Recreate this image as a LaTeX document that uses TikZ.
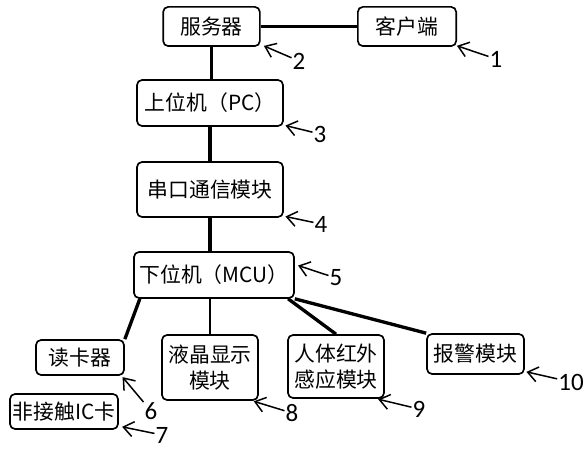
\documentclass[tikz,border=0pt]{standalone}
\usepackage{fontspec}
\setmainfont{Carlito}
\newfontfamily\cjk{Noto Sans CJK SC}
\usepackage{tikz}
\usetikzlibrary{positioning, arrows.meta}

\begin{document}
\begin{tikzpicture}[x=0.6pt, y=-0.6pt,
        box/.style={draw, rectangle, rounded corners=3pt, line width=1pt, inner sep=0pt, align=center, font=\cjk\fontsize{12.5}{15.6}\selectfont},
        link/.style={line width=2pt},
        ptr/.style={-{Straight Barb[length=6pt, width=9pt]}, line width=0.9pt, shorten >=1pt},
        num/.style={inner sep=0.5pt, font=\fontsize{15}{15}\selectfont}
    ]
    \useasboundingbox (0,0) rectangle (587,450);

    % Top row
    \node[box, minimum width=58pt, minimum height=23.5pt] (srv) at (211.5,26.5) {服务器};
    \node[box, minimum width=59pt, minimum height=23.5pt] (cli) at (407,26.5) {客户端};

    % Main column
    \node[box, minimum width=87.6pt, minimum height=27.6pt] (pc) at (210,103) {上位机（PC）};
    \node[box, minimum width=87.6pt, minimum height=33pt] (uart) at (210,189.5) {串口通信模块};
    \node[box, minimum width=96pt, minimum height=27.6pt] (mcu) at (214,275) {下位机（MCU）};

    % Peripherals
    \node[box, minimum width=52.8pt, minimum height=21pt] (rdr) at (80,357.5) {读卡器};
    \node[box, minimum width=64.8pt, minimum height=21pt] (card) at (64,411.5) {非接触IC卡};
    \node[box, minimum width=57.6pt, minimum height=39pt] (lcd) at (210,367.5) {液晶显示\\模块};
    \node[box, minimum width=57.6pt, minimum height=37.8pt] (pir) at (336,366.5) {人体红外\\感应模块};
    \node[box, minimum width=58.2pt, minimum height=24pt] (alm) at (475.5,354) {报警模块};

    % Connections
    \draw[link] (srv) -- (cli);
    \draw[link] (srv.south) -- (srv.south |- pc.north);
    \draw[link] (pc.south) -- (pc.south |- uart.north);
    \draw[link] (uart.south) -- (uart.south |- mcu.north);
    \draw[link] ([xshift=4pt]mcu.south west) -- (rdr.north east);
    \draw[line width=1.4pt] (lcd.north |- mcu.south) -- (lcd.north);
    \draw[link] ([xshift=-4pt]mcu.south east) -- (pir.north);
    \draw[link] (mcu.south east) -- (alm.north west);

    % Numbers
    \node[num] (l1) at (496,59) {1};
    \node[num] (l2) at (299,61) {2};
    \node[num] (l3) at (320,134) {3};
    \node[num] (l4) at (321,224) {4};
    \node[num] (l5) at (336,278) {5};
    \node[num] (l6) at (151,411) {6};
    \node[num] (l7) at (162,435) {7};
    \node[num] (l8) at (292,413) {8};
    \node[num] (l9) at (419,409) {9};
    \node[num] (l10) at (571,382) {10};

    % Pointers
    \draw[ptr] (l1) -- ([xshift=-1pt, yshift=1pt]cli.south east);
    \draw[ptr] (l2) -- ([xshift=1pt, yshift=1pt]srv.south east);
    \draw[ptr] (l3) -- ([yshift=1pt]pc.south east);
    \draw[ptr] (l4) -- ([yshift=1pt]uart.south east);
    \draw[ptr] (l5) -- ([xshift=1pt, yshift=6pt]mcu.east);
    \draw[ptr] (l6) -- ([xshift=-2pt]rdr.south east);
    \draw[ptr] (l7) -- ([xshift=1pt, yshift=2pt]card.south east);
    \draw[ptr] (l8) -- ([xshift=-4pt]lcd.south east);
    \draw[ptr] (l9) -- ([xshift=-5pt]pir.south east);
    \draw[ptr] (l10) -- ([yshift=2pt]alm.south east);

    \end{tikzpicture}
\end{document}
